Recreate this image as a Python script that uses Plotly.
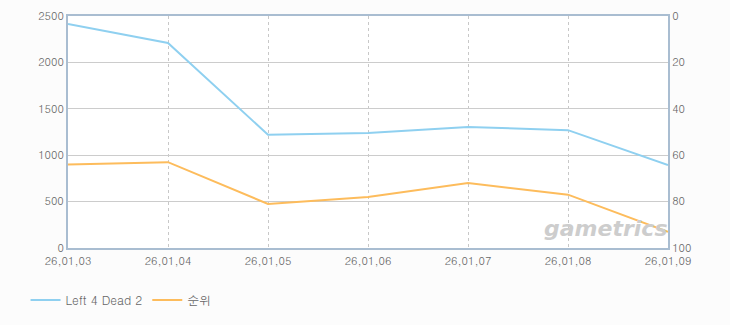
import plotly.graph_objects as go

dates = ["26,01,03", "26,01,04", "26,01,05", "26,01,06", "26,01,07", "26,01,08", "26,01,09"]
players = [2415, 2210, 1220, 1240, 1305, 1270, 895]
rank = [64, 63, 81, 78, 72, 77, 93]

font = "Dotum, Gulim, 'Noto Sans CJK KR', sans-serif"

fig = go.Figure()
fig.add_trace(go.Scatter(x=dates, y=players, name="Left 4 Dead 2", mode="lines",
                         line=dict(color="#8fd0f0", width=2), yaxis="y"))
fig.add_trace(go.Scatter(x=dates, y=rank, name="순위", mode="lines",
                         line=dict(color="#fdbc5c", width=2), yaxis="y2"))

fig.update_layout(
    width=730, height=325,
    margin=dict(l=68, r=62, t=16, b=77, autoexpand=False),
    paper_bgcolor="#fcfcfc",
    plot_bgcolor="#ffffff",
    font=dict(family=font, size=11, color="#666666"),
    showlegend=True,
    legend=dict(orientation="h", xref="container", yref="container",
                x=0.035, y=0.077, xanchor="left", yanchor="middle",
                font=dict(size=12, color="#666666"), bgcolor="rgba(0,0,0,0)"),
    xaxis=dict(type="category", range=[0, 6], showgrid=True, griddash="3px,3px",
               gridcolor="#c8c8c8", gridwidth=1, showline=True, mirror=True,
               linecolor="#a9bdd1", linewidth=2, ticks="outside", ticklen=2,
               tickcolor="rgba(0,0,0,0)", zeroline=False, automargin=False,
               tickfont=dict(size=11, color="#666666")),
    yaxis=dict(range=[0, 2500], dtick=500, showgrid=True, gridcolor="#cccccc",
               showline=True, linecolor="#a9bdd1", linewidth=2, zeroline=False,
               ticks="", automargin=False, tickfont=dict(size=11, color="#666666")),
    yaxis2=dict(range=[100, 0], dtick=20, overlaying="y", side="right",
                showgrid=False, showline=True, linecolor="#a9bdd1", linewidth=2,
                zeroline=False, ticks="", automargin=False,
                tickfont=dict(size=11, color="#666666")),
    annotations=[dict(text="<b><i>gametrics</i></b>", xref="paper", yref="paper",
                      x=0.895, y=0.086, xanchor="center", yanchor="middle",
                      showarrow=False,
                      font=dict(size=22, color="#cdcdcd", family="DejaVu Sans"))],
)

fig.write_html("out.html")
